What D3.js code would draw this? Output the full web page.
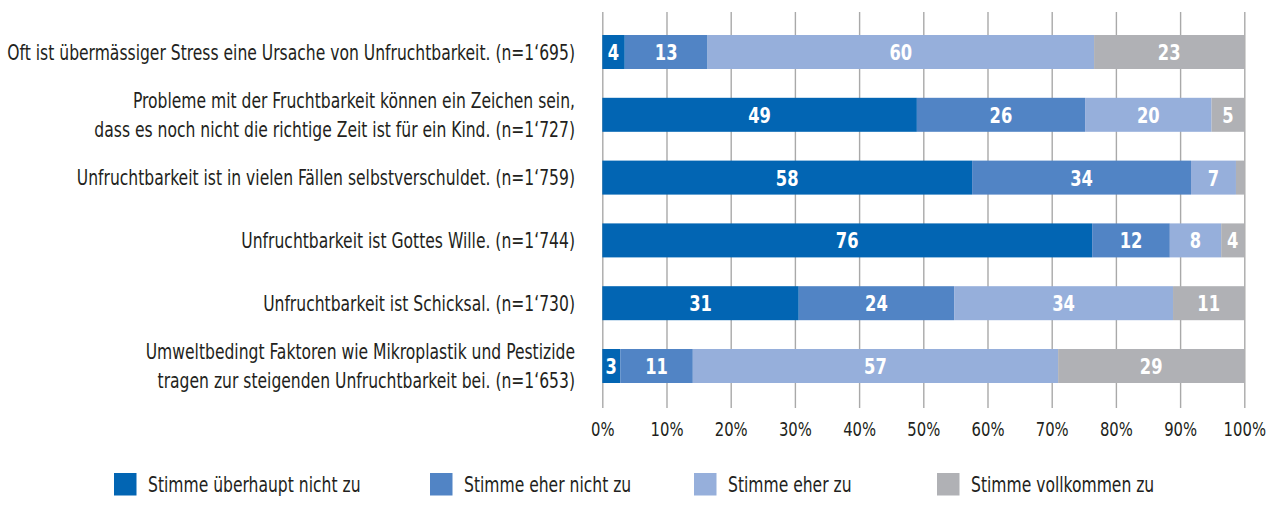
<!DOCTYPE html>
<html lang="de">
<head>
<meta charset="utf-8">
<script src="https://cdn.jsdelivr.net/npm/d3@7"></script>
<style>
  html, body { margin: 0; padding: 0; background: #ffffff; }
  svg { display: block; }
  .lbl { font-family: "DejaVu Sans Condensed", "Liberation Sans Narrow", sans-serif; }
</style>
</head>
<body>
<svg id="chart" width="1273" height="513"></svg>
<script>
// Statements (one row each; "\n" splits a label over two lines)
const categories = [
  "Oft ist übermässiger Stress eine Ursache von Unfruchtbarkeit. (n=1‘695)",
  "Probleme mit der Fruchtbarkeit können ein Zeichen sein,\ndass es noch nicht die richtige Zeit ist für ein Kind. (n=1‘727)",
  "Unfruchtbarkeit ist in vielen Fällen selbstverschuldet. (n=1‘759)",
  "Unfruchtbarkeit ist Gottes Wille. (n=1‘744)",
  "Unfruchtbarkeit ist Schicksal. (n=1‘730)",
  "Umweltbedingt Faktoren wie Mikroplastik und Pestizide\ntragen zur steigenden Unfruchtbarkeit bei. (n=1‘653)"
];

// Answer categories (legend order)
const seriesNames = [
  "Stimme überhaupt nicht zu",
  "Stimme eher nicht zu",
  "Stimme eher zu",
  "Stimme vollkommen zu"
];

// Shares in percent per statement
const stronglyDisagree = [3.5, 49.0, 57.6, 76.3, 30.6, 2.8];
const ratherDisagree   = [12.9, 26.2, 34.1, 12.1, 24.2, 11.3];
const ratherAgree      = [60.2, 19.7, 7.0, 8.0, 34.1, 56.9];
const fullyAgree       = [23.4, 5.1, 1.3, 3.6, 11.1, 29.0];

const tickValues = [0, 10, 20, 30, 40, 50, 60, 70, 80, 90, 100];
const tickLabels = ["0%", "10%", "20%", "30%", "40%", "50%", "60%", "70%", "80%", "90%", "100%"];

const colors = ["#0265b3", "#5184c5", "#96afdb", "#b0b1b5"];

// Build rows for the stack layout
const seriesValues = [stronglyDisagree, ratherDisagree, ratherAgree, fullyAgree];
const rows = categories.map((c, i) => {
  const r = { category: c };
  seriesNames.forEach((s, j) => { r[s] = seriesValues[j][i]; });
  return r;
});

const svg = d3.select("#chart");

// Horizontal squeeze so the condensed face reads like a narrow typeface:
// the longest one-line statement should span about 568px.
const probe = svg.append("text").attr("class", "lbl").attr("font-size", 21)
  .text(categories[0]);
const squeeze = Math.min(1, 568 / probe.node().getComputedTextLength());
probe.remove();

const x = d3.scaleLinear().domain([0, 100]).range([602.3, 1244.3]);
const y = d3.scaleBand()
  .domain(categories)
  .range([20.6, 397.4])
  .paddingInner(0.4586)
  .paddingOuter(0.2293);

const color = d3.scaleOrdinal().domain(seriesNames).range(colors);

// Vertical gridlines
const grid = svg.append("g")
  .attr("transform", "translate(0,408)")
  .call(d3.axisBottom(x).tickValues(tickValues).tickSize(-396).tickFormat(""));
grid.select(".domain").remove();
grid.selectAll(".tick line").attr("stroke", "#a9a9a9").attr("stroke-width", 1.4);

// Tick labels
const axis = svg.append("g")
  .attr("transform", "translate(0,422)")
  .call(d3.axisBottom(x).tickValues(tickValues).tickSize(0).tickFormat((d, i) => tickLabels[i]));
axis.select(".domain").remove();
axis.selectAll("text")
  .attr("class", "lbl")
  .attr("font-size", 20)
  .attr("fill", "#231f20")
  .attr("y", 0)
  .attr("dy", "0.71em")
  .attr("transform", `scale(${squeeze},1)`);

// Stacked bars
const stacked = d3.stack().keys(seriesNames)(rows);

const layers = svg.append("g").selectAll("g")
  .data(stacked)
  .join("g")
  .attr("fill", d => color(d.key));

layers.selectAll("rect")
  .data(d => d)
  .join("rect")
  .attr("x", d => x(d[0]))
  .attr("y", d => y(d.data.category))
  .attr("width", d => x(d[1]) - x(d[0]))
  .attr("height", y.bandwidth());

// Value labels inside segments
layers.selectAll("text")
  .data(d => d.filter(p => p[1] - p[0] >= 2))
  .join("text")
  .attr("class", "lbl")
  .attr("transform", d =>
    `translate(${(x(d[0]) + x(d[1])) / 2},${y(d.data.category) + y.bandwidth() / 2}) scale(${squeeze},1)`)
  .attr("dy", "0.36em")
  .attr("text-anchor", "middle")
  .attr("font-size", 22)
  .attr("font-weight", "bold")
  .attr("fill", "#ffffff")
  .text(d => Math.round(d[1] - d[0]));

// Statement labels
const catLabels = svg.append("g").selectAll("text")
  .data(categories)
  .join("text")
  .attr("class", "lbl")
  .attr("text-anchor", "end")
  .attr("font-size", 21)
  .attr("fill", "#231f20")
  .attr("transform", d => `translate(575,${y(d) + y.bandwidth() / 2}) scale(${squeeze},1)`);

catLabels.each(function(d) {
  const lines = d.split("\n");
  const t = d3.select(this);
  lines.forEach((line, k) => {
    t.append("tspan")
      .attr("x", 0)
      .attr("dy", k === 0 ? (0.36 - (lines.length - 1) * 0.7) + "em" : "1.4em")
      .text(line);
  });
});

// Legend
const legendX = [114, 430, 694, 937];
const legend = svg.append("g").selectAll("g")
  .data(seriesNames)
  .join("g")
  .attr("transform", (d, i) => `translate(${legendX[i]},473)`);

legend.append("rect")
  .attr("width", 22.5)
  .attr("height", 22.5)
  .attr("fill", d => color(d));

legend.append("text")
  .attr("class", "lbl")
  .attr("transform", `translate(34,11.5) scale(${squeeze},1)`)
  .attr("dy", "0.36em")
  .attr("font-size", 21)
  .attr("fill", "#231f20")
  .text(d => d);
</script>
</body>
</html>
